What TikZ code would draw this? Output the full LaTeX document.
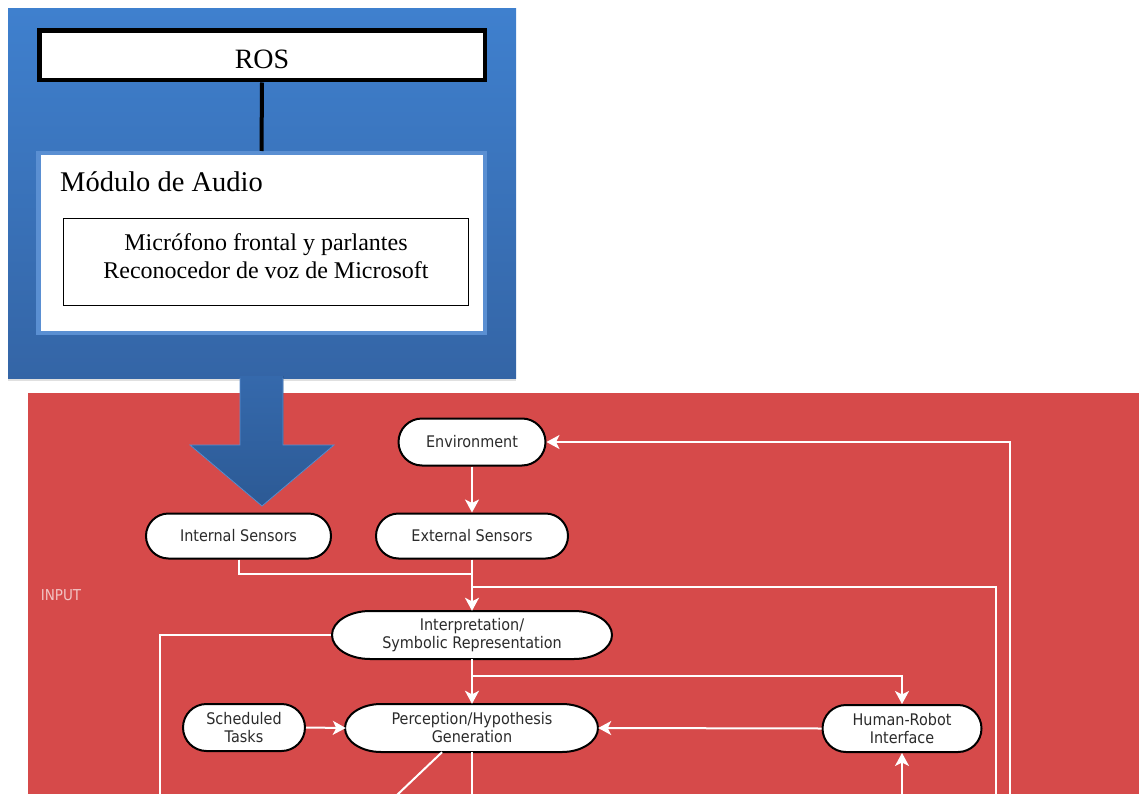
\documentclass[tikz,border=0pt]{standalone}
\usepackage{fontspec}
\setmainfont{Liberation Serif}
\newfontfamily\diagfont{DejaVu Sans}[FakeStretch=0.9]
\usetikzlibrary{arrows.meta,shadows}
\definecolor{bluetop}{HTML}{3F80CE}
\definecolor{bluebot}{HTML}{3465A6}
\definecolor{arrtop}{HTML}{3569AC}
\definecolor{arrbot}{HTML}{2C5A95}
\definecolor{arredge}{HTML}{5B8FD0}
\definecolor{modedge}{HTML}{5A8FD2}
\definecolor{redbg}{HTML}{D64A4A}
\definecolor{textgray}{HTML}{2B2B2B}
\definecolor{inputpink}{HTML}{F2C4C4}
\begin{document}
\begin{tikzpicture}[x=1pt,y=-1pt,
  pill/.style={draw=black, line width=2pt, fill=white, inner sep=0pt,
    font=\diagfont\fontsize{16}{18}\selectfont, text=textgray, align=center},
  oval/.style={draw=none, fill=none, inner sep=0pt,
    font=\diagfont\fontsize{16}{18}\selectfont, text=textgray, align=center},
  ovaledge/.style={draw=black, line width=2pt, fill=white},
  flow/.style={draw=white, line width=2pt},
  arr/.style={flow, -{Stealth[length=13pt,width=14pt,inset=3.5pt]}},
]
\useasboundingbox (0,0) rectangle (1139,794);

% red background
\fill[redbg] (28,393) rectangle (1139,794);

% blue box
\path[top color=bluetop, bottom color=bluebot,
  drop shadow={shadow xshift=0pt, shadow yshift=-3pt, opacity=0.12, fill=black}]
  (8,9) rectangle (516,378);

% ROS box
\node[draw=black, line width=4.5pt, fill=white, minimum width=445.5pt, minimum height=49.5pt,
  inner sep=0pt, text height=27pt, text depth=0pt, font=\fontsize{28}{30}\selectfont]
  (ros) at (262,55.5) {ROS};
% module box
\node[draw=modedge, line width=4.5pt, fill=white, minimum width=446.5pt, minimum height=179.5pt,
  inner sep=0pt] (mod) at (261.5,243) {};
\draw[line width=4pt, black] (ros.south) -- (mod.north);
\node[anchor=base west, inner sep=0pt, font=\fontsize{28.5}{30}\selectfont]
  (modt) at (60,192) {Módulo de Audio};
\node[draw=black, line width=1.2pt, minimum width=405pt, minimum height=87pt, inner sep=0pt]
  (inner) at (266,262) {};
\node[anchor=base, inner sep=0pt, font=\fontsize{24}{28}\selectfont]
  (l1) at (266,250) {Micrófono frontal y parlantes};
\node[anchor=base, inner sep=0pt, font=\fontsize{24}{28}\selectfont]
  (l2) at (266,278) {Reconocedor de voz de Microsoft};

% big blue arrow
\fill[top color=arrtop, bottom color=arrbot]
  (240,376) -- (283,376) -- (283,445) -- (334,445) -- (262,506) -- (190,445) -- (240,445) -- cycle;
\draw[arredge, line width=0.8pt]
  (240,378) -- (240,445) -- (190,445) -- (262,506) -- (334,445) -- (283,445) -- (283,378);

% INPUT label
\node[font=\diagfont\fontsize{15}{17}\selectfont, text=inputpink, inner sep=0pt] (input) at (61,595) {INPUT};

% nodes
\node[pill, rounded corners=23.5pt, minimum width=147pt, minimum height=47pt] (env) at (472,442) {Environment};
\node[pill, rounded corners=22.5pt, minimum width=185pt, minimum height=45pt] (ints) at (238.5,536) {Internal Sensors};
\node[pill, rounded corners=22.5pt, minimum width=192pt, minimum height=45pt] (exts) at (472,536) {External Sensors};
\node[pill, rounded corners=23.5pt, minimum width=122pt, minimum height=47pt] (sched) at (244,727.5) {Scheduled\\Tasks};
\node[pill, rounded corners=23.5pt, minimum width=159pt, minimum height=47pt] (hri) at (902,728.5) {Human-Robot\\Interface};

% elliptical-ended nodes
\path[ovaledge] (370,611) -- (574,611) arc[start angle=-90, end angle=90, x radius=38, y radius=24]
  -- (370,659) arc[start angle=90, end angle=270, x radius=38, y radius=24] -- cycle;
\node[oval, minimum width=282pt, minimum height=48pt] (interp) at (472,635) {Interpretation/\\Symbolic Representation};
\path[ovaledge] (381,704) -- (562,704) arc[start angle=-90, end angle=90, x radius=36, y radius=24]
  -- (381,752) arc[start angle=90, end angle=270, x radius=36, y radius=24] -- cycle;
\node[oval, minimum width=252pt, minimum height=48pt] (perc) at (472,728) {Perception/Hypothesis\\Generation};

% free-end coordinates
\coordinate (bR) at (1010,795);
\coordinate (bR2) at (996,795);
\coordinate (bL) at (160,795);
\coordinate (bH) at (902,795);
\coordinate (bM) at (472,795);
\coordinate (bD) at (397,795);
\coordinate (j1) at (472,574);
\coordinate (j2) at (472,587);
\coordinate (j3) at (472,676);

% connectors
\draw[arr] (bR) |- (env.east);
\draw[arr] (env.south) -- (exts.north);
\draw[arr] (exts.south) -- (interp.north);
\draw[flow] (ints.south) |- (j1);
\draw[flow] (j2) -| (bR2);
\draw[flow] (interp.west) -| (bL);
\draw[arr] (interp.south) -- (perc.north);
\draw[arr] (j3) -| (hri.north);
\draw[arr] (sched.east) -- (perc.west);
\draw[arr] (hri.west) -- (perc.east);
\draw[arr] (bH) -- (hri.south);
\draw[flow] (perc.south) -- (bM);
\draw[flow] ([xshift=-30pt]perc.south) -- (bD);
\end{tikzpicture}
\end{document}
